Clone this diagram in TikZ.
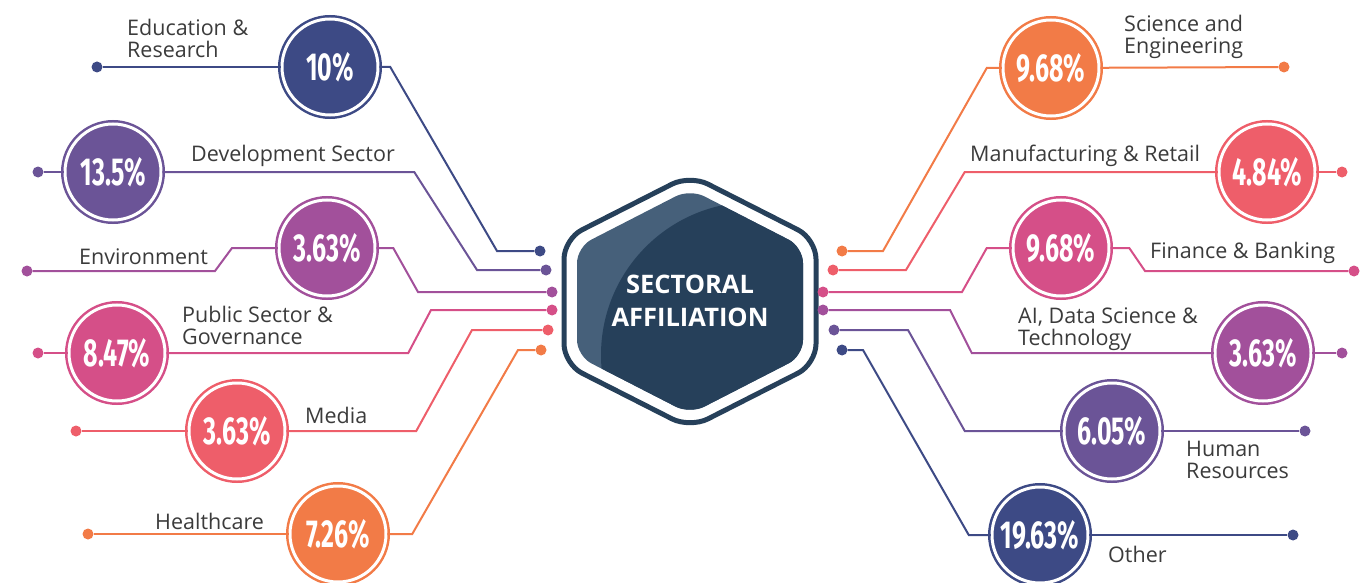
\documentclass[tikz,border=0pt]{standalone}
\usepackage{fontspec}
\setmainfont{Open Sans}
\newfontfamily\numfont[FakeStretch=0.64]{Fira Sans}
\definecolor{navy}{HTML}{3D4A85}
\definecolor{grape}{HTML}{6B5497}
\definecolor{plum}{HTML}{A2509B}
\definecolor{rose}{HTML}{D54F88}
\definecolor{coral}{HTML}{EE5E6A}
\definecolor{tang}{HTML}{F27B47}
\definecolor{hexdark}{HTML}{26405A}
\definecolor{hexlight}{HTML}{46607A}
\definecolor{labelgray}{HTML}{3B3B3B}
\begin{document}
\begin{tikzpicture}[x=1pt, y=-1pt,
    pct/.style={circle, fill=#1, draw=#1, double=white, double distance=3pt, line width=2.5pt,
      minimum size=96pt, inner sep=0pt, text=white, font=\numfont\bfseries\fontsize{39}{39}\selectfont},
    dot/.style={circle, fill=#1, inner sep=0pt, minimum size=11pt},
    link/.style={#1, line width=2pt},
    lbl/.style={text=labelgray, font=\fontsize{21.5}{22}\selectfont, align=left, inner sep=0pt, anchor=west}]
  \useasboundingbox (0,0) rectangle (1368,583);

  \draw[hexdark, line width=5pt, rounded corners=20pt] (690,175) -- (816,239) -- (816,364) -- (690,428) -- (564,364) -- (564,239) -- cycle;
  \begin{scope}
    \clip[rounded corners=16pt] (690,189) -- (803,247) -- (803,356) -- (690,414) -- (577,356) -- (577,247) -- cycle;
    \fill[hexlight] (560,170) rectangle (820,430);
    \fill[hexdark] (754,355) circle (153);
  \end{scope}
  \node[text=white, align=center, font=\bfseries\fontsize{25.5}{33}\selectfont] (hub) at (690,301) {SECTORAL\\AFFILIATION};

  \node[pct=navy] (edu) at (330,67) {10\%};
  \node[pct=grape] (dev) at (113,172) {13.5\%};
  \node[pct=plum] (env) at (327,248) {3.63\%};
  \node[pct=rose] (pub) at (117,353) {8.47\%};
  \node[pct=coral] (med) at (237,431) {3.63\%};
  \node[pct=tang] (heal) at (338,534) {7.26\%};
  \node[pct=tang] (sci) at (1051,68) {9.68\%};
  \node[pct=coral] (man) at (1267,172) {4.84\%};
  \node[pct=rose] (fin) at (1061,248) {9.68\%};
  \node[pct=plum] (ai) at (1263,353) {3.63\%};
  \node[pct=grape] (hr) at (1112,431) {6.05\%};
  \node[pct=navy] (oth) at (1040,535) {19.63\%};

  \node[dot=navy] (edud) at (97,67) {};
  \node[dot=grape] (devd) at (38,172) {};
  \node[dot=plum] (envd) at (27,271) {};
  \node[dot=rose] (pubd) at (38,353) {};
  \node[dot=coral] (medd) at (76,431) {};
  \node[dot=tang] (heald) at (88,534) {};
  \node[dot=navy] (eduh) at (540,251) {};
  \node[dot=grape] (devh) at (546,270) {};
  \node[dot=plum] (envh) at (552,292) {};
  \node[dot=rose] (pubh) at (552,310) {};
  \node[dot=coral] (medh) at (548,330) {};
  \node[dot=tang] (healh) at (541,350) {};

  \node[dot=tang] (scih) at (842,251) {};
  \node[dot=coral] (manh) at (833,270) {};
  \node[dot=rose] (finh) at (823,292) {};
  \node[dot=plum] (aih) at (823,310) {};
  \node[dot=grape] (hrh) at (834,330) {};
  \node[dot=navy] (othh) at (842,350) {};
  \node[dot=tang] (scid) at (1284,67) {};
  \node[dot=coral] (mand) at (1342,172) {};
  \node[dot=rose] (find) at (1354,271) {};
  \node[dot=plum] (aid) at (1342,353) {};
  \node[dot=grape] (hrd) at (1305,431) {};
  \node[dot=navy] (othd) at (1293,535) {};

  \draw[link=navy] (edud) -- (edu);
  \draw[link=navy] (edu.east) -- ++(11,0) -- ([xshift=-43]eduh.center) -- (eduh);
  \draw[link=grape] (devd) -- (dev);
  \draw[link=grape] (dev.east) -- ++(252,0) -- ([xshift=-69]devh.center) -- (devh);
  \draw[link=plum] (envd) -- ++(188,0) -- ++(17,-23) -- (env.west);
  \draw[link=plum] (env.east) -- ++(17,0) -- ([xshift=-134]envh.center) -- (envh);
  \draw[link=rose] (pubd) -- (pub);
  \draw[link=rose] (pub.east) -- ++(242,0) -- ([xshift=-121]pubh.center) -- (pubh);
  \draw[link=coral] (medd) -- (med);
  \draw[link=coral] (med.east) -- ++(130,0) -- ([xshift=-76]medh.center) -- (medh);
  \draw[link=tang] (heald) -- (heal);
  \draw[link=tang] (heal.east) -- ++(25,0) -- ([xshift=-23]healh.center) -- (healh);

  \draw[link=tang] (scih) -- ++(41,0) -- ([xshift=-15]sci.west) -- (sci.west);
  \draw[link=tang] (sci) -- (scid);
  \draw[link=coral] (manh) -- ++(73,0) -- ([xshift=-253]man.west) -- (man.west);
  \draw[link=coral] (man) -- (mand);
  \draw[link=rose] (finh) -- ++(139,0) -- ([xshift=-25]fin.west) -- (fin.west);
  \draw[link=rose] (fin.east) -- ++(19,0) -- ([xshift=-209]find.center) -- (find);
  \draw[link=plum] (aih) -- ++(127,0) -- ([xshift=-242]ai.west) -- (ai.west);
  \draw[link=plum] (ai) -- (aid);
  \draw[link=grape] (hrh) -- ++(74,0) -- ([xshift=-98]hr.west) -- (hr.west);
  \draw[link=grape] (hr) -- (hrd);
  \draw[link=navy] (othh) -- ++(21,0) -- ([xshift=-22]oth.west) -- (oth.west);
  \draw[link=navy] (oth) -- (othd);

  \node[lbl] (edul) at (127,38) {Education \&\\Research};
  \node[lbl] (devl) at (191,156) {Development Sector};
  \node[lbl] (envl) at (79,257) {Environment};
  \node[lbl] (publ) at (182,325) {Public Sector \&\\Governance};
  \node[lbl] (medl) at (305,415) {Media};
  \node[lbl] (heall) at (155,521) {Healthcare};
  \node[lbl] (scil) at (1124,37) {Science and\\Engineering};
  \node[lbl] (manl) at (970,156) {Manufacturing \& Retail};
  \node[lbl] (finl) at (1150,253) {Finance \& Banking};
  \node[lbl] (ail) at (1018,329) {AI, Data Science \&\\Technology};
  \node[lbl] (hrl) at (1186,460) {Human\\Resources};
  \node[lbl] (othl) at (1108,554) {Other};
\end{tikzpicture}
\end{document}
